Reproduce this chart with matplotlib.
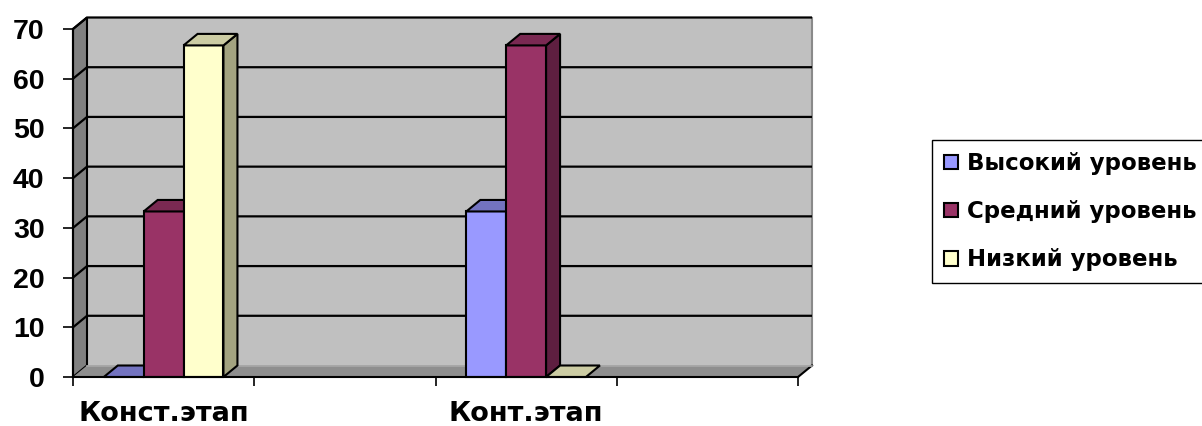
import matplotlib
matplotlib.use("Agg")
import matplotlib.pyplot as plt
from matplotlib.patches import Polygon, Patch
import numpy as np

plt.rcParams['font.family'] = ['Liberation Sans', 'DejaVu Sans']
plt.rcParams['font.weight'] = 'bold'

# ---- data ----
categories = ["Конст.этап", "", "Конт.этап", ""]
series_names = ["Высокий уровень", "Средний уровень", "Низкий уровень"]
high = [0, np.nan, 33.3, np.nan]
mid = [33.3, np.nan, 66.7, np.nan]
low = [66.7, np.nan, 0, np.nan]
series_values = [high, mid, low]
yticks = [0, 10, 20, 30, 40, 50, 60, 70]

# ---- styles ----
front_cols = ["#9999FF", "#993366", "#FFFFCC"]
top_cols = ["#7373C0", "#7A2952", "#CCCCA3"]
side_cols = ["#5C5C99", "#5E1F40", "#A3A380"]
back_wall = "#C0C0C0"
left_wall = "#808080"
floor_col = "#8E8E8E"
wide_font = ['DejaVu Sans']

W, H = 1202, 426
fig = plt.figure(figsize=(W / 100, H / 100), dpi=100)
# front plane: x 73..798 px, y(0)=377, y(70)=29
ax = fig.add_axes([73 / W, (H - 377) / H, 725 / W, 348 / H])
ncat = len(categories)
ymax = 70
ax.set_xlim(0, ncat)
ax.set_ylim(0, ymax)
ax.set_facecolor("none")

# depth offsets in data units
px_x = 725 / ncat
px_y = 348 / ymax
dx = 14 / px_x
dy = 11.5 / px_y

lw = 1.5
# walls
ax.add_patch(Polygon([(dx, dy), (ncat + dx, dy), (ncat + dx, ymax + dy), (dx, ymax + dy)],
                     closed=True, facecolor=back_wall, edgecolor="none", zorder=1, clip_on=False))
ax.add_patch(Polygon([(0, 0), (dx, dy), (dx, ymax + dy), (0, ymax)],
                     closed=True, facecolor=left_wall, edgecolor="black", lw=lw, zorder=1, clip_on=False))
ax.add_patch(Polygon([(0, 0), (ncat, 0), (ncat + dx, dy), (dx, dy)],
                     closed=True, facecolor=floor_col, edgecolor="none", zorder=1, clip_on=False))
# right edge of back wall
ax.plot([ncat + dx, ncat + dx], [dy, ymax + dy], color="#8A8A8A", lw=1.5, zorder=2, clip_on=False)
ax.plot([ncat, ncat + dx], [0, dy], color="black", lw=lw, zorder=2, clip_on=False)
# back-bottom light line
ax.plot([dx, ncat + dx], [dy, dy], color="#A8A8A8", lw=1.2, zorder=2, clip_on=False)

# gridlines
for v in yticks[1:]:
    ax.plot([0, dx, ncat + dx], [v, v + dy, v + dy], color="black", lw=1.6, zorder=2,
            clip_on=False, solid_capstyle="butt")

# bars
bw = 0.22
start = 0.17
for j in range(ncat):
    for i, vals in enumerate(series_values):
        v = vals[j]
        if np.isnan(v):
            continue
        x0 = j + start + i * bw
        x1 = x0 + bw
        if v > 0:
            ax.add_patch(Polygon([(x1, 0), (x1 + dx, dy), (x1 + dx, v + dy), (x1, v)], closed=True,
                                 facecolor=side_cols[i], edgecolor="black", lw=lw, zorder=3, clip_on=False))
            ax.add_patch(Polygon([(x0, 0), (x1, 0), (x1, v), (x0, v)], closed=True,
                                 facecolor=front_cols[i], edgecolor="black", lw=lw, zorder=3, clip_on=False))
        ax.add_patch(Polygon([(x0, v), (x1, v), (x1 + dx, v + dy), (x0 + dx, v + dy)], closed=True,
                             facecolor=top_cols[i], edgecolor="black", lw=lw, zorder=3, clip_on=False))

# axes / ticks
for s in ["top", "right"]:
    ax.spines[s].set_visible(False)
ax.spines["left"].set_linewidth(lw)
ax.spines["bottom"].set_linewidth(lw)
ax.spines["left"].set_zorder(4)
ax.spines["bottom"].set_zorder(4)
ax.set_yticks(yticks)
ax.set_yticklabels([str(t) for t in yticks], fontsize=20.5, fontweight="bold")
ax.tick_params(axis="y", direction="out", length=7, width=1.2, pad=13.5)
ax.set_xticks(range(ncat + 1))
ax.set_xticklabels([])
ax.tick_params(axis="x", which="major", direction="out", length=6.5, width=1.2)
ax.set_xticks(np.arange(ncat) + 0.5, minor=True)
ax.set_xticklabels(categories, minor=True, fontsize=19.5, fontweight="bold", family=wide_font)
ax.tick_params(axis="x", which="minor", length=0, pad=17)

# legend
handles = [Patch(facecolor=front_cols[i], edgecolor="black", lw=1.5) for i in range(3)]
fig.legend(handles, series_names, loc="upper left", bbox_to_anchor=(932 / W, 1 - 140 / H),
           frameon=True, fancybox=False, edgecolor="black", framealpha=1,
           prop={"size": 16.5, "weight": "bold", "family": wide_font},
           handlelength=0.6, handleheight=0.6,
           handletextpad=0.42, labelspacing=1.1, borderpad=0.52, borderaxespad=0)

fig.savefig("out.png", dpi=100)
